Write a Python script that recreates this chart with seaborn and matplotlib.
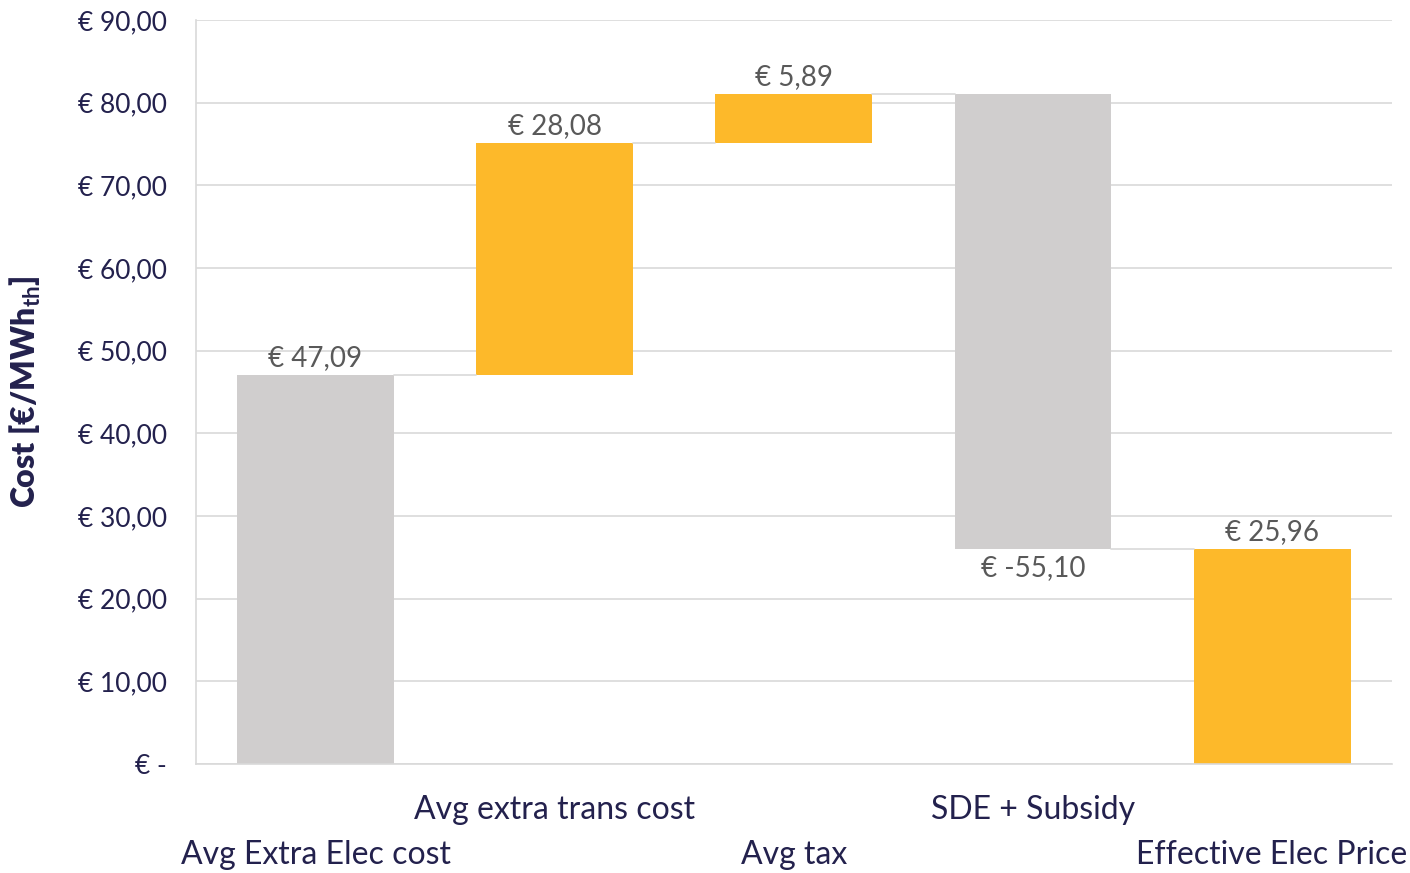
import matplotlib
matplotlib.use("Agg")
import matplotlib.pyplot as plt
import seaborn as sns
import numpy as np
from matplotlib.ticker import FuncFormatter

categories = ["Avg Extra Elec cost", "Avg extra trans cost", "Avg tax", "SDE + Subsidy", "Effective Elec Price"]
values = [47.09, 28.08, 5.89, -55.10, 25.96]
is_total = [False, False, False, False, True]
bar_colors = ["#D0CECE", "#FDB92A", "#FDB92A", "#D0CECE", "#FDB92A"]
y_ticks = [0, 10, 20, 30, 40, 50, 60, 70, 80, 90]

sns.set_theme(style="white")
plt.rcParams["font.family"] = ["Lato", "DejaVu Sans"]
plt.rcParams["mathtext.fontset"] = "custom"
plt.rcParams["mathtext.bf"] = "Lato:bold"
plt.rcParams["mathtext.rm"] = "Lato"

navy = "#23214D"
grid_c = "#D9D9D9"

# waterfall geometry from values
bottoms, heights, ends = [], [], []
run = 0.0
for v, tot in zip(values, is_total):
    if tot:
        b, h = 0.0, v
        run = v
    else:
        new = run + v
        b, h = min(run, new), abs(v)
        run = new
    bottoms.append(b); heights.append(h); ends.append(run)

fig = plt.figure(figsize=(14.1, 8.73), dpi=100)
ax = fig.add_axes([0.139, 0.1249, 0.848, 0.852])

sns.barplot(x=categories, y=heights, hue=categories, palette=bar_colors,
            legend=False, width=0.656, ax=ax, saturation=1, linewidth=0, order=categories)

patches = ax.patches[:len(values)]
for p, b in zip(patches, bottoms):
    p.set_y(b)

ax.set_ylim(0, 90)
ax.set_xlim(-0.5, len(values) - 0.5)
ax.set_yticks(y_ticks)

def fmt(v, pos=None):
    if abs(v) < 1e-9:
        return "€ -"
    return "€ " + f"{v:.2f}".replace(".", ",")
ax.yaxis.set_major_formatter(FuncFormatter(fmt))

ax.yaxis.grid(True, color=grid_c, linewidth=1.2)
ax.set_axisbelow(True)
for s in ["top", "right"]:
    ax.spines[s].set_visible(False)
ax.spines["left"].set_color(grid_c)
ax.spines["bottom"].set_color(grid_c)
ax.spines["left"].set_linewidth(1.2)
ax.spines["bottom"].set_linewidth(1.2)
ax.tick_params(axis="both", length=0)
ax.tick_params(axis="y", labelsize=19, labelcolor=navy, pad=21)
ax.tick_params(axis="x", labelsize=23, labelcolor=navy)

# staggered category labels
for i, t in enumerate(ax.xaxis.get_major_ticks()):
    t.set_pad(55 if i % 2 == 0 else 22)

# connector lines
for i in range(len(values) - 1):
    p0, p1 = patches[i], patches[i + 1]
    ax.plot([p0.get_x() + p0.get_width(), p1.get_x()], [ends[i], ends[i]],
            color=grid_c, linewidth=1.2, zorder=1)

# data labels
for i, (p, v) in enumerate(zip(patches, values)):
    xc = p.get_x() + p.get_width() / 2
    if v >= 0:
        ax.annotate(fmt(v), (xc, p.get_y() + p.get_height()), xytext=(0, 3),
                    textcoords="offset points", ha="center", va="bottom",
                    fontsize=20, color="#595959")
    else:
        ax.annotate(fmt(v), (xc, p.get_y()), xytext=(0, -4),
                    textcoords="offset points", ha="center", va="top",
                    fontsize=20, color="#595959")

ax.set_xlabel("")
ax.set_ylabel(r"Cost [€/MWh$_{\mathbf{th}}$]", fontsize=23, fontweight="heavy", color=navy)
ax.yaxis.set_label_coords(-0.128, 0.5)

fig.savefig("out.png", dpi=100)
